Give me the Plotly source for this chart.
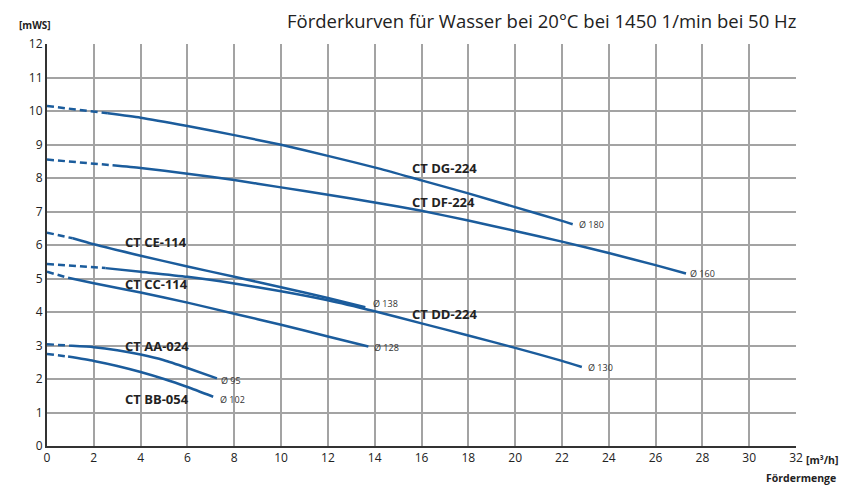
import plotly.graph_objects as go

# ---- data ----
DG_DASH_X = [0, 2.6]
DG_DASH_Y = [10.15, 9.93]
DG_X = [2.6, 4, 6, 8, 10, 12, 14.2, 16, 18, 20, 22, 22.46]
DG_Y = [9.93, 9.8, 9.55, 9.28, 8.99, 8.66, 8.28, 7.93, 7.54, 7.13, 6.72, 6.62]

DF_DASH_X = [0, 2.8]
DF_DASH_Y = [8.55, 8.38]
DF_X = [2.8, 4, 6, 8, 10, 12, 14, 16, 18, 20, 22, 24, 26, 27.3]
DF_Y = [8.38, 8.3, 8.13, 7.94, 7.72, 7.5, 7.27, 7.02, 6.73, 6.42, 6.1, 5.76, 5.4, 5.15]

CE_DASH_X = [0, 1.1]
CE_DASH_Y = [6.37, 6.2]
CE_X = [1.1, 2, 4, 6, 8, 10, 12, 13.6]
CE_Y = [6.2, 6.02, 5.68, 5.36, 5.05, 4.74, 4.42, 4.14]

CC_DASH_X = [0, 2.5]
CC_DASH_Y = [5.43, 5.31]
CC_X = [2.5, 4, 6, 8, 10, 12, 14, 16, 18, 20, 22, 22.85]
CC_Y = [5.31, 5.2, 5.05, 4.85, 4.62, 4.35, 4.02, 3.66, 3.3, 2.93, 2.54, 2.36]

C128_DASH_X = [0, 0.9]
C128_DASH_Y = [5.2, 5.02]
C128_X = [0.9, 2, 4, 6, 8, 10, 12, 13.73]
C128_Y = [5.02, 4.86, 4.58, 4.28, 3.95, 3.62, 3.27, 2.97]

AA_DASH_X = [0, 1.07]
AA_DASH_Y = [3.04, 2.99]
AA_X = [1.07, 2, 3, 4, 5, 6, 7.26]
AA_Y = [2.99, 2.95, 2.86, 2.73, 2.56, 2.33, 2.02]

BB_DASH_X = [0, 0.9]
BB_DASH_Y = [2.75, 2.67]
BB_X = [0.9, 2, 3, 4, 5, 6, 7.1]
BB_Y = [2.67, 2.54, 2.39, 2.21, 2.0, 1.76, 1.47]

PUMP_NAMES = ["CT DG-224", "CT DF-224", "CT CE-114", "CT CC-114", "CT DD-224", "CT AA-024", "CT BB-054"]
PUMP_LABEL_X = [15.5, 15.5, 3.25, 3.25, 15.5, 3.25, 3.25]
PUMP_LABEL_Y = [8.29, 7.28, 6.1, 4.85, 3.95, 3.0, 1.41]

DIAM_TEXT = ["Ø 180", "Ø 160", "Ø 138", "Ø 130", "Ø 128", "Ø 95", "Ø 102"]
DIAM_X = [22.64, 27.4, 13.85, 23.03, 13.87, 7.35, 7.32]
DIAM_Y = [6.61, 5.16, 4.24, 2.33, 2.94, 1.97, 1.40]

X_TICKS = list(range(0, 33, 2))
Y_TICKS = list(range(0, 13, 1))

BLUE = "#1B5C9C"
GRID = "#A3A3A3"
TXT = "#222222"

fig = go.Figure()
curves = [
    (DG_DASH_X, DG_DASH_Y, DG_X, DG_Y),
    (DF_DASH_X, DF_DASH_Y, DF_X, DF_Y),
    (CE_DASH_X, CE_DASH_Y, CE_X, CE_Y),
    (CC_DASH_X, CC_DASH_Y, CC_X, CC_Y),
    (C128_DASH_X, C128_DASH_Y, C128_X, C128_Y),
    (AA_DASH_X, AA_DASH_Y, AA_X, AA_Y),
    (BB_DASH_X, BB_DASH_Y, BB_X, BB_Y),
]
for dx, dy, sx, sy in curves:
    fig.add_trace(go.Scatter(x=dx, y=dy, mode="lines",
                             line=dict(color=BLUE, width=2.5, dash="7px,4px"),
                             showlegend=False, hoverinfo="skip"))
    fig.add_trace(go.Scatter(x=sx, y=sy, mode="lines",
                             line=dict(color=BLUE, width=2.5, shape="spline", smoothing=0.6),
                             showlegend=False, hoverinfo="skip"))

for name, lx, ly in zip(PUMP_NAMES, PUMP_LABEL_X, PUMP_LABEL_Y):
    fig.add_annotation(x=lx, y=ly, xref="x", yref="y", text="<b>" + name + "</b>",
                       showarrow=False, xanchor="left", yanchor="middle",
                       font=dict(family="Open Sans", size=13, color=TXT))

for t, dx, dy in zip(DIAM_TEXT, DIAM_X, DIAM_Y):
    fig.add_annotation(x=dx, y=dy, xref="x", yref="y", text=t,
                       showarrow=False, xanchor="left", yanchor="middle",
                       font=dict(family="Open Sans", size=9, color="#333333"))

fig.add_annotation(x=0, y=1, xref="paper", yref="paper", text="<b>[mWS]</b>",
                   showarrow=False, xanchor="center", yanchor="middle",
                   xshift=-12, yshift=19,
                   font=dict(family="Open Sans", size=10, color=TXT))
fig.add_annotation(x=1.0, y=0, xref="paper", yref="paper", text="<b>[m³/h]</b>",
                   showarrow=False, xanchor="left", yanchor="middle", xshift=8, yshift=-14,
                   font=dict(family="Open Sans", size=10.5, color=TXT))
fig.add_annotation(x=1.0, y=0, xref="paper", yref="paper", text="<b>Fördermenge</b>",
                   showarrow=False, xanchor="right", yanchor="middle", xshift=42, yshift=-32,
                   font=dict(family="Open Sans", size=10.5, color=TXT))
fig.add_annotation(x=1.0, y=1.0, xref="paper", yref="paper",
                   text="Förderkurven für Wasser bei 20°C bei 1450 1/min bei 50 Hz",
                   showarrow=False, xanchor="right", yanchor="middle", yshift=24, xshift=2,
                   font=dict(family="Open Sans", size=18.5, color=TXT))

fig.update_layout(
    width=852, height=496,
    margin=dict(l=39, r=64, t=36, b=58),
    paper_bgcolor="white", plot_bgcolor="white",
    xaxis=dict(range=[0, 32], tickvals=X_TICKS, ticktext=[str(v) for v in X_TICKS],
               showgrid=True, gridcolor=GRID, gridwidth=1.5, zeroline=False,
               showline=True, linecolor="#333333", linewidth=2,
               ticks="", tickfont=dict(family="Open Sans", size=12, color=TXT),
               fixedrange=True),
    yaxis=dict(range=[0, 12], tickvals=Y_TICKS, ticktext=[str(v) for v in Y_TICKS],
               showgrid=True, gridcolor=GRID, gridwidth=1.5, zeroline=False,
               showline=True, linecolor="#333333", linewidth=2,
               ticks="", tickfont=dict(family="Open Sans", size=12, color=TXT),
               fixedrange=True),
)

fig.write_html("out.html")
